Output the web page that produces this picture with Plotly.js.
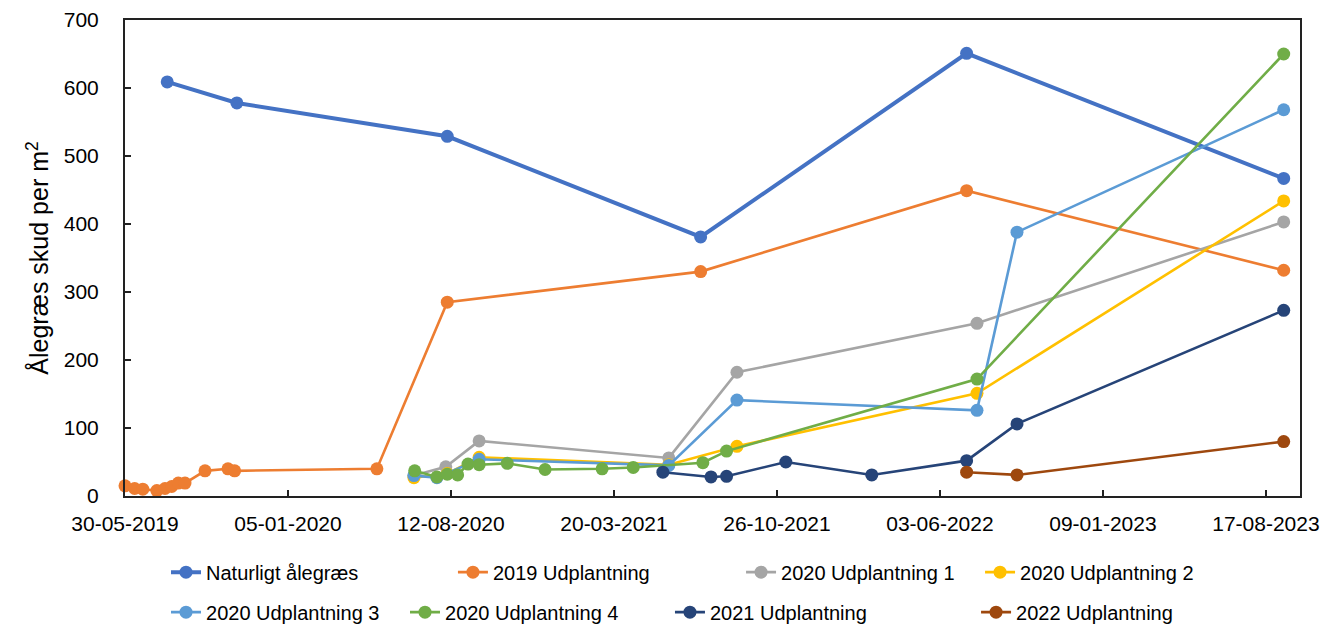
<!DOCTYPE html>
<html>
<head>
<meta charset="utf-8">
<script src="https://cdn.plot.ly/plotly-3.0.1.min.js"></script>
<style>html,body{margin:0;padding:0;background:#fff;}#chart{width:1332px;height:626px;}</style>
</head>
<body>
<div id="chart"></div>
<script>
// ---- data ----
const seriesNames = ["Naturligt ålegræs","2019 Udplantning","2020 Udplantning 1","2020 Udplantning 2","2020 Udplantning 3","2020 Udplantning 4","2021 Udplantning","2022 Udplantning"];
const seriesColors = ["#4472C4","#ED7D31","#A5A5A5","#FFC000","#5B9BD5","#70AD47","#264478","#9E480E"];

const naturligtDates = ["2019-07-26","2019-10-28","2020-08-07","2021-07-15","2022-07-09","2023-09-10"];
const naturligtValues = [609,578,529,381,651,467];

const u2019Dates = ["2019-05-30","2019-06-12","2019-06-23","2019-07-12","2019-07-23","2019-08-01","2019-08-10","2019-08-19","2019-09-15","2019-10-16","2019-10-25","2020-05-04","2020-08-07","2021-07-15","2022-07-09","2023-09-10"];
const u2019Values = [15,11,10,8,11,14,19,19,37,40,37,40,285,330,449,332];

const u2020_1Dates = ["2020-06-23","2020-08-05","2020-09-19","2021-06-02","2021-09-02","2022-07-23","2023-09-10"];
const u2020_1Values = [30,43,81,56,182,254,403];

const u2020_2Dates = ["2020-06-23","2020-08-07","2020-09-19","2021-06-02","2021-09-02","2022-07-23","2023-09-10"];
const u2020_2Values = [27,33,57,46,73,151,434];

const u2020_3Dates = ["2020-06-23","2020-07-24","2020-09-19","2021-06-02","2021-09-02","2022-07-23","2022-09-15","2023-09-10"];
const u2020_3Values = [30,27,54,45,141,126,388,568];

const u2020_4Dates = ["2020-06-24","2020-07-24","2020-08-07","2020-08-21","2020-09-04","2020-09-19","2020-10-27","2020-12-17","2021-03-04","2021-04-15","2021-07-18","2021-08-19","2022-07-23","2023-09-10"];
const u2020_4Values = [37,28,32,31,47,46,48,39,40,42,49,66,172,650];

const u2021Dates = ["2021-05-25","2021-07-29","2021-08-19","2021-11-07","2022-03-03","2022-07-09","2022-09-15","2023-09-10"];
const u2021Values = [35,28,29,50,31,52,106,273];

const u2022Dates = ["2022-07-09","2022-09-15","2023-09-10"];
const u2022Values = [35,31,80];

const xTickStart = "2019-05-30";
const xTickDays = 220;
const xRange = ["2019-05-30","2023-10-02"];
const yTitle = "Ålegræs skud per m<sup>2</sup>";

// ---- chart ----
const allDates = [naturligtDates,u2019Dates,u2020_1Dates,u2020_2Dates,u2020_3Dates,u2020_4Dates,u2021Dates,u2022Dates];
const allValues = [naturligtValues,u2019Values,u2020_1Values,u2020_2Values,u2020_3Values,u2020_4Values,u2021Values,u2022Values];
const legendKeys = ["legend","legend2","legend3","legend4","legend5","legend6","legend7","legend8"];

const traces = allValues.map((vals, i) => ({
  type: "scatter",
  mode: "lines+markers",
  name: seriesNames[i],
  x: allDates[i],
  y: vals,
  line: {color: seriesColors[i], width: i === 0 ? 4 : 2.6},
  marker: {color: seriesColors[i], size: 13},
  cliponaxis: false,
  legend: legendKeys[i]
}));

const legendFont = {family: "Liberation Sans, Arial, sans-serif", size: 20, color: "#000"};
const legPos = [
  [0.0349,-0.160],[0.2791,-0.160],[0.5243,-0.160],[0.7277,-0.160],
  [0.0349,-0.244],[0.2383,-0.244],[0.4638,-0.244],[0.7243,-0.244]
];

const layout = {
  width: 1332, height: 626,
  margin: {l: 125, r: 32, t: 20, b: 130, autoexpand: false},
  paper_bgcolor: "#fff", plot_bgcolor: "#fff",
  font: {family: "Liberation Sans, Arial, sans-serif", color: "#000"},
  showlegend: true,
  xaxis: {
    type: "date",
    range: xRange,
    tick0: xTickStart,
    dtick: xTickDays * 86400000,
    tickformat: "%d-%m-%Y",
    ticks: "inside", ticklen: 6, tickwidth: 1.5, tickcolor: "#222",
    showgrid: false, zeroline: false,
    showline: true, mirror: true, linecolor: "#222", linewidth: 2,
    tickfont: {size: 21, color: "#000"},
    ticklabelstandoff: 8
  },
  yaxis: {
    range: [0, 700],
    dtick: 100,
    ticks: "inside", ticklen: 6, tickwidth: 1.5, tickcolor: "#222",
    showgrid: false, zeroline: false,
    showline: true, mirror: true, linecolor: "#222", linewidth: 2,
    tickfont: {size: 21, color: "#000"},
    ticklabelstandoff: 20,
    title: {text: yTitle, font: {size: 25, color: "#000"}, standoff: 8}
  }
};
legendKeys.forEach((k, j) => {
  layout[k] = {x: legPos[j][0], y: legPos[j][1], xanchor: "left", yanchor: "middle",
    orientation: "h", font: legendFont, bgcolor: "rgba(0,0,0,0)", borderwidth: 0, itemwidth: 30};
});

Plotly.newPlot("chart", traces, layout, {displayModeBar: false, staticPlot: true});
</script>
</body>
</html>
